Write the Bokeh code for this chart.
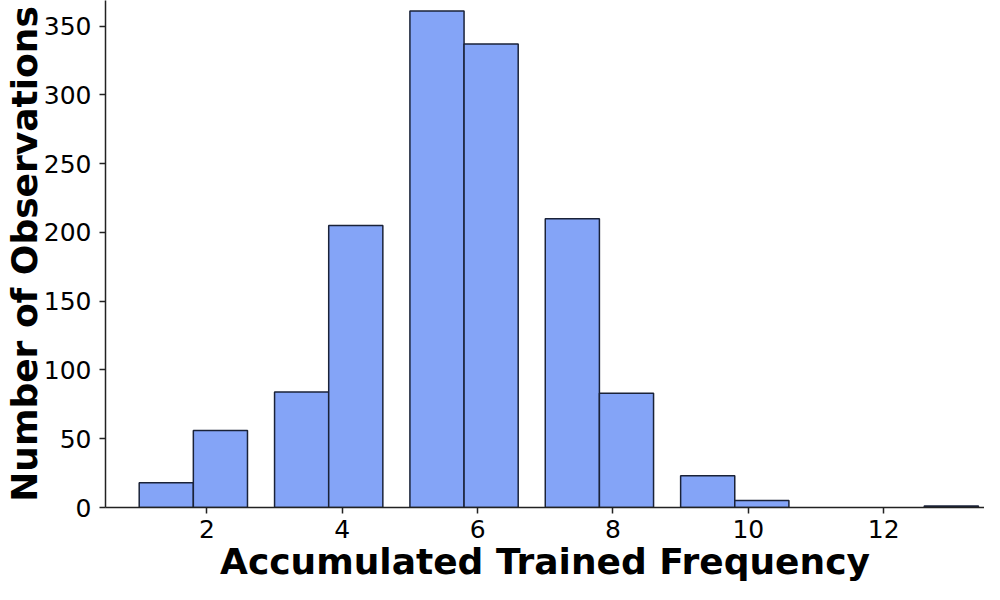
from bokeh.plotting import figure
from bokeh.models import ColumnDataSource, FixedTicker, Range1d
from bokeh.embed import file_html
from bokeh.resources import INLINE

# Histogram data (bin edges and counts)
bin_left = [1.0, 1.8, 3.0, 3.8, 5.0, 5.8, 7.0, 7.8, 9.0, 9.8, 12.6]
bin_right = [1.8, 2.6, 3.8, 4.6, 5.8, 6.6, 7.8, 8.6, 9.8, 10.6, 13.4]
counts = [18, 56, 84, 205, 361, 337, 210, 83, 23, 5, 1]

x_ticks = [2, 4, 6, 8, 10, 12]
y_ticks = [0, 50, 100, 150, 200, 250, 300, 350]

x_label = "Accumulated Trained Frequency"
y_label = "Number of Observations"

src = ColumnDataSource(dict(left=bin_left, right=bin_right,
                            top=counts, bottom=[0] * len(counts)))

p = figure(width=984, height=584, output_backend="svg", toolbar_location=None,
           x_range=Range1d(0.502, 13.49), y_range=Range1d(0, 368.7))
p.min_border_left = 102
p.min_border_right = 0
p.min_border_top = 0
p.min_border_bottom = 76
p.outline_line_color = None
p.background_fill_color = "white"
p.border_fill_color = "white"
p.grid.visible = False

p.quad(left="left", right="right", top="top", bottom="bottom", source=src,
       fill_color="#84A4F7", line_color="#1a2238", line_width=1.5)

FONT = "DejaVu Sans"
for ax in (p.xaxis[0], p.yaxis[0]):
    ax.axis_line_color = "#222222"
    ax.axis_line_width = 1.5
    ax.major_tick_line_color = "#222222"
    ax.major_tick_line_width = 1.5
    ax.major_tick_in = 0
    ax.major_tick_out = 6
    ax.minor_tick_line_color = None
    ax.major_label_text_font = FONT
    ax.major_label_text_font_size = "25px"
    ax.major_label_text_color = "black"
    ax.axis_label_text_font = FONT
    ax.axis_label_text_font_size = "36px"
    ax.axis_label_text_font_style = "bold"
    ax.axis_label_text_color = "black"

p.xaxis.ticker = FixedTicker(ticks=x_ticks)
p.yaxis.ticker = FixedTicker(ticks=y_ticks)
p.xaxis.axis_label = x_label
p.yaxis.axis_label = y_label
p.xaxis.major_label_standoff = 6
p.yaxis.major_label_standoff = 8
p.xaxis.axis_label_standoff = 0
p.yaxis.axis_label_standoff = -4

open("out.html", "w").write(file_html(p, INLINE))
